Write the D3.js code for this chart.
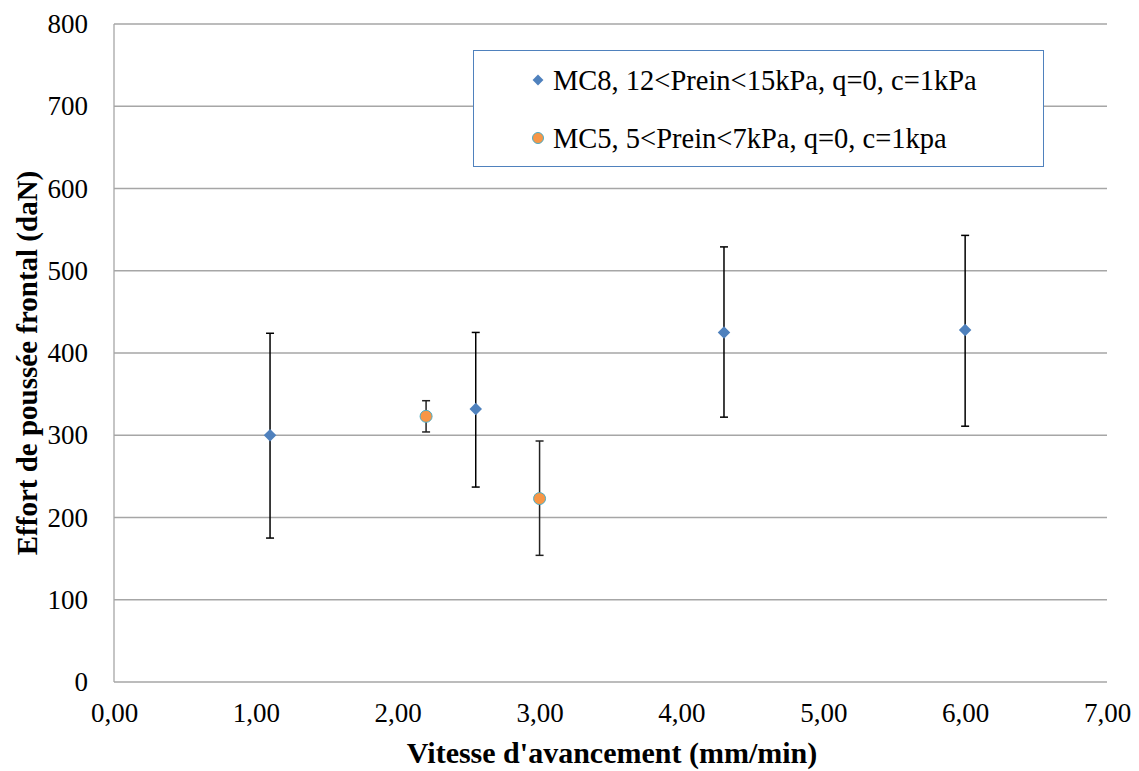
<!DOCTYPE html>
<html><head><meta charset="utf-8">
<script src="https://cdn.jsdelivr.net/npm/d3@7"></script>
<style>body{margin:0;background:#fff;}svg{display:block;font-family:"Liberation Serif","DejaVu Serif",serif;}svg text{font-family:"Liberation Serif","DejaVu Serif",serif;}</style>
</head><body><svg id="c" width="1139" height="771"></svg>
<script>
const xTicks = [0,1,2,3,4,5,6,7];
const yTicks = [0,100,200,300,400,500,600,700,800];
const mc8X = [1.10, 2.55, 4.30, 6.00];
const mc8Y = [300, 332, 425, 428];
const mc8Lo = [175, 237, 322, 311];
const mc8Hi = [424, 425, 529, 543];
const mc5X = [2.20, 3.00];
const mc5Y = [323, 223];
const mc5Lo = [304, 154];
const mc5Hi = [342, 293];
const seriesNames = ["MC8, 12<Prein<15kPa, q=0, c=1kPa", "MC5, 5<Prein<7kPa, q=0, c=1kpa"];

const svg = d3.select("#c");
const L=114, R=1107, T=24, B=682;
const x = d3.scaleLinear().domain([0,7]).range([L,R]);
const y = d3.scaleLinear().domain([0,800]).range([B,T]);
const fmt = d => d.toFixed(2).replace(".", ",");

// gridlines
svg.append("g").selectAll("line").data(yTicks).join("line")
  .attr("x1",L).attr("x2",R).attr("y1",d=>y(d)).attr("y2",d=>y(d))
  .attr("stroke","#a6a6a6").attr("stroke-width",1.3);
svg.append("line").attr("x1",L).attr("x2",L).attr("y1",T).attr("y2",B)
  .attr("stroke","#a6a6a6").attr("stroke-width",1.3);

// axes labels
const yAxis = d3.axisLeft(y).tickValues(yTicks).tickSize(0).tickPadding(26).tickFormat(d3.format("d"));
const gy = svg.append("g").attr("transform",`translate(${L},0)`).call(yAxis);
gy.attr("font-family",null).attr("font-size",null);
gy.select(".domain").remove();
gy.selectAll("text").attr("font-size",27).attr("fill","#000");
const xAxis = d3.axisBottom(x).tickValues(xTicks).tickSize(0).tickPadding(21).tickFormat(fmt);
const gx = svg.append("g").attr("transform",`translate(0,${B})`).call(xAxis);
gx.attr("font-family",null).attr("font-size",null);
gx.select(".domain").remove();
gx.selectAll("text").attr("font-size",27).attr("fill","#000");

// axis titles
svg.append("text").attr("x",612).attr("y",763).attr("text-anchor","middle")
  .attr("font-size",30).attr("font-weight","bold").text("Vitesse d'avancement (mm/min)");
svg.append("text").attr("transform",`translate(37,${(T+B)/2+10}) rotate(-90)`).attr("text-anchor","middle")
  .attr("font-size",29).attr("font-weight","bold").text("Effort de poussée frontal (daN)");

// error bars
function errs(xs, ys, lo, hi, col){
  const g = svg.append("g").attr("stroke",col).attr("stroke-width",1.5);
  const data = xs.map((v,i)=>({x:v,lo:lo[i],hi:hi[i]}));
  g.selectAll(".v").data(data).join("line").attr("x1",d=>x(d.x)).attr("x2",d=>x(d.x)).attr("y1",d=>y(d.lo)).attr("y2",d=>y(d.hi));
  g.selectAll(".t").data(data).join("line").attr("x1",d=>x(d.x)-4).attr("x2",d=>x(d.x)+4).attr("y1",d=>y(d.hi)).attr("y2",d=>y(d.hi));
  g.selectAll(".b").data(data).join("line").attr("x1",d=>x(d.x)-4).attr("x2",d=>x(d.x)+4).attr("y1",d=>y(d.lo)).attr("y2",d=>y(d.lo));
}
errs(mc8X, mc8Y, mc8Lo, mc8Hi, "#000");
errs(mc5X, mc5Y, mc5Lo, mc5Hi, "#222");

const diamond = d3.symbol().type(d3.symbolDiamond2).size(100);
svg.append("g").selectAll("path").data(mc8X.map((v,i)=>[v,mc8Y[i]])).join("path")
  .attr("d",diamond).attr("transform",d=>`translate(${x(d[0])},${y(d[1])})`)
  .attr("fill","#4f81bd");
svg.append("g").selectAll("circle").data(mc5X.map((v,i)=>[v,mc5Y[i]])).join("circle")
  .attr("cx",d=>x(d[0])).attr("cy",d=>y(d[1])).attr("r",6)
  .attr("fill","#f79646").attr("stroke","#4bacc6").attr("stroke-width",1);

// legend
const lg = svg.append("g");
lg.append("rect").attr("x",473.5).attr("y",50.5).attr("width",570).attr("height",116)
  .attr("fill","#fff").attr("stroke","#4f81bd").attr("stroke-width",1);
lg.append("path").attr("d",d3.symbol().type(d3.symbolDiamond2).size(75)).attr("transform","translate(538,80)").attr("fill","#4f81bd");
lg.append("circle").attr("cx",538).attr("cy",138).attr("r",5.5).attr("fill","#f79646").attr("stroke","#4bacc6").attr("stroke-width",1);
lg.selectAll("text").data(seriesNames).join("text").attr("x",553).attr("y",(d,i)=>[80,138][i]).attr("dy","0.35em")
  .attr("font-size",28.5).text(d=>d);
</script></body></html>
